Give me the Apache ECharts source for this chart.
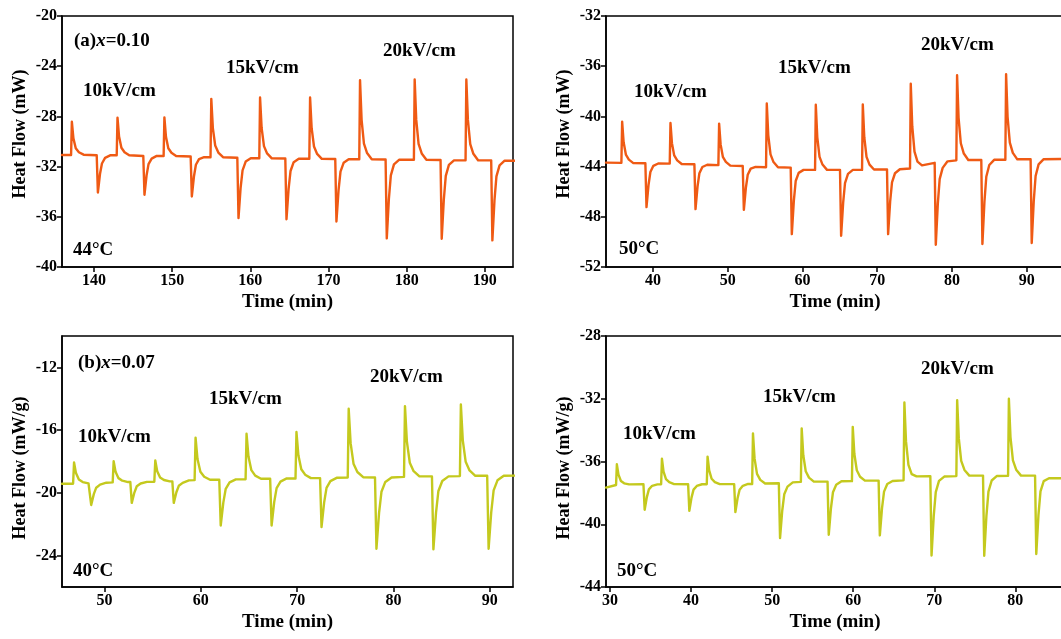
<!DOCTYPE html>
<html>
<head>
<meta charset="utf-8">
<script src="https://cdn.jsdelivr.net/npm/echarts@6/dist/echarts.min.js"></script>
<style>
html,body{margin:0;padding:0;background:#fff;}
#main{width:1061px;height:639px;}
</style>
</head>
<body>
<div id="main"></div>
<script>
// ---------- data (time in min, heat flow) ----------
const seriesA = [ // (a) x=0.10, 44°C, mW
[135.9,-31.07],
[137.06,-31.07],[137.16,-28.42],[137.36,-29.75],[137.66,-30.54],[138.06,-30.86],[138.66,-31.05],
[140.34,-31.1],[140.49,-34.07],[140.76,-32.59],[141.01,-31.75],[141.41,-31.3],[142.06,-31.1],
[142.9,-31.1],[143.0,-28.1],[143.2,-29.6],[143.5,-30.5],[143.9,-30.86],[144.5,-31.1],
[146.3,-31.15],[146.45,-34.25],[146.72,-32.7],[146.97,-31.8],[147.37,-31.36],[148.02,-31.15],
[148.9,-31.15],[149.0,-28.08],[149.2,-29.62],[149.5,-30.54],[149.9,-30.9],[150.5,-31.15],
[152.36,-31.2],[152.51,-34.38],[152.78,-32.79],[153.03,-31.85],[153.43,-31.4],[154.08,-31.25],
[154.9,-31.25],[155.0,-26.6],[155.2,-28.93],[155.5,-30.32],[155.9,-30.88],[156.5,-31.25],
[158.33,-31.3],[158.48,-36.1],[158.75,-33.7],[159.0,-32.3],[159.4,-31.6],[160.05,-31.34],
[161.14,-31.34],[161.24,-26.49],[161.44,-28.92],[161.74,-30.37],[162.14,-30.95],[162.74,-31.34],
[164.47,-31.36],[164.62,-36.19],[164.89,-33.78],[165.14,-32.35],[165.54,-31.65],[166.19,-31.38],
[167.54,-31.38],[167.64,-26.49],[167.84,-28.94],[168.14,-30.4],[168.54,-30.99],[169.14,-31.38],
[170.86,-31.4],[171.01,-36.37],[171.28,-33.89],[171.53,-32.4],[171.93,-31.7],[172.58,-31.42],
[173.93,-31.42],[174.03,-25.11],[174.23,-28.27],[174.53,-30.16],[174.93,-30.92],[175.53,-31.42],
[177.3,-31.44],[177.45,-37.72],[177.72,-34.58],[177.97,-32.7],[178.37,-31.82],[179.02,-31.46],
[180.92,-31.46],[181.02,-25.06],[181.22,-28.26],[181.52,-30.18],[181.92,-30.95],[182.52,-31.46],
[184.33,-31.48],[184.48,-37.75],[184.75,-34.62],[185.0,-32.74],[185.4,-31.86],[186.05,-31.5],
[187.53,-31.5],[187.63,-25.06],[187.83,-28.28],[188.13,-30.21],[188.53,-30.98],[189.13,-31.5],
[190.81,-31.5],[190.96,-37.88],[191.23,-34.69],[191.48,-32.78],[191.88,-31.9],[192.53,-31.53],
[193.8,-31.53]
];
const seriesB = [ // x=0.10, 50°C, mW
[33.7,-43.68],
[35.76,-43.7],[35.86,-40.42],[36.06,-42.06],[36.36,-43.04],[36.76,-43.44],[37.36,-43.72],
[38.97,-43.73],[39.12,-47.23],[39.39,-45.48],[39.64,-44.43],[40.04,-43.94],[40.69,-43.75],
[42.23,-43.76],[42.33,-40.53],[42.53,-42.15],[42.83,-43.11],[43.23,-43.5],[43.83,-43.79],
[45.53,-43.81],[45.68,-47.39],[45.95,-45.6],[46.2,-44.53],[46.6,-44.03],[47.25,-43.85],
[48.74,-43.88],[48.84,-40.58],[49.04,-42.23],[49.34,-43.22],[49.74,-43.62],[50.34,-43.92],
[52.0,-43.95],[52.15,-47.44],[52.42,-45.7],[52.67,-44.65],[53.07,-44.16],[53.72,-44.02],
[55.12,-44.05],[55.22,-38.97],[55.42,-41.51],[55.72,-43.03],[56.12,-43.64],[56.72,-44.05],
[58.42,-44.08],[58.57,-49.38],[58.84,-46.73],[59.09,-45.15],[59.49,-44.5],[60.14,-44.26],
[61.68,-44.26],[61.78,-39.07],[61.98,-41.67],[62.28,-43.22],[62.68,-43.84],[63.28,-44.26],
[65.02,-44.26],[65.17,-49.51],[65.44,-46.89],[65.69,-45.31],[66.09,-44.58],[66.74,-44.26],
[67.97,-44.26],[68.07,-39.05],[68.27,-41.66],[68.57,-43.22],[68.97,-43.84],[69.57,-44.23],
[71.31,-44.22],[71.46,-49.38],[71.73,-46.8],[71.98,-45.25],[72.38,-44.53],[73.03,-44.21],
[74.39,-44.15],[74.49,-37.4],[74.69,-40.78],[74.99,-42.8],[75.39,-43.6],[75.99,-43.9],
[77.69,-43.7],[77.84,-50.23],[78.11,-46.97],[78.36,-45.0],[78.76,-44.1],[79.41,-43.58],
[80.59,-43.5],[80.69,-36.72],[80.89,-40.11],[81.19,-42.14],[81.59,-42.96],[82.19,-43.47],
[83.93,-43.47],[84.08,-50.17],[84.35,-46.82],[84.6,-44.81],[85.0,-43.87],[85.65,-43.46],
[87.15,-43.45],[87.25,-36.64],[87.45,-40.05],[87.75,-42.09],[88.15,-42.91],[88.75,-43.42],
[90.53,-43.42],[90.68,-50.09],[90.95,-46.76],[91.2,-44.75],[91.6,-43.82],[92.25,-43.42],
[95.5,-43.39]
];
const seriesC = [ // (b) x=0.07, 40°C, mW/g
[45.6,-19.42],
[46.75,-19.42],[46.85,-18.06],[47.05,-18.74],[47.35,-19.15],[47.75,-19.31],[48.35,-19.39],
[48.48,-19.39],[48.63,-20.77],[48.9,-20.08],[49.15,-19.67],[49.55,-19.47],[50.2,-19.35],
[50.86,-19.33],[50.96,-17.98],[51.16,-18.66],[51.46,-19.06],[51.86,-19.22],[52.46,-19.31],
[52.69,-19.31],[52.84,-20.64],[53.11,-19.98],[53.36,-19.58],[53.76,-19.4],[54.41,-19.3],
[55.18,-19.29],[55.28,-17.94],[55.48,-18.62],[55.78,-19.02],[56.18,-19.18],[56.78,-19.27],
[57.05,-19.27],[57.2,-20.64],[57.47,-19.96],[57.72,-19.55],[58.12,-19.36],[58.77,-19.2],
[59.36,-19.19],[59.46,-16.48],[59.66,-17.84],[59.96,-18.65],[60.36,-18.97],[60.96,-19.16],
[61.92,-19.16],[62.07,-22.08],[62.34,-20.62],[62.59,-19.74],[62.99,-19.33],[63.64,-19.14],
[64.65,-19.13],[64.75,-16.23],[64.95,-17.68],[65.25,-18.55],[65.65,-18.9],[66.25,-19.1],
[67.2,-19.1],[67.35,-22.08],[67.62,-20.59],[67.87,-19.7],[68.27,-19.28],[68.92,-19.08],
[69.83,-19.08],[69.93,-16.12],[70.13,-17.6],[70.43,-18.49],[70.83,-18.84],[71.43,-19.06],
[72.38,-19.06],[72.53,-22.18],[72.8,-20.62],[73.05,-19.68],[73.45,-19.25],[74.1,-19.04],
[75.25,-19.02],[75.35,-14.64],[75.55,-16.83],[75.85,-18.14],[76.25,-18.67],[76.85,-19.0],
[78.08,-19.02],[78.23,-23.56],[78.5,-21.29],[78.75,-19.93],[79.15,-19.3],[79.8,-19.02],
[81.09,-18.98],[81.19,-14.47],[81.39,-16.73],[81.69,-18.08],[82.09,-18.62],[82.69,-18.95],
[83.99,-18.95],[84.14,-23.6],[84.41,-21.28],[84.66,-19.88],[85.06,-19.24],[85.71,-18.95],
[86.89,-18.93],[86.99,-14.37],[87.19,-16.65],[87.49,-18.02],[87.89,-18.57],[88.49,-18.91],
[89.72,-18.91],[89.87,-23.56],[90.14,-21.24],[90.39,-19.84],[90.79,-19.2],[91.44,-18.91],
[92.6,-18.9]
];
const seriesD = [ // x=0.07, 50°C, mW/g
[29.5,-37.66],
[30.74,-37.5],[30.84,-36.18],[31.04,-36.84],[31.34,-37.24],[31.74,-37.39],[32.34,-37.46],
[34.12,-37.45],[34.27,-39.08],[34.54,-38.27],[34.79,-37.78],[35.19,-37.55],[35.84,-37.46],
[36.3,-37.45],[36.4,-35.82],[36.6,-36.64],[36.9,-37.12],[37.3,-37.32],[37.9,-37.44],
[39.63,-37.45],[39.78,-39.15],[40.05,-38.3],[40.3,-37.79],[40.7,-37.56],[41.35,-37.45],
[41.93,-37.45],[42.03,-35.69],[42.23,-36.57],[42.53,-37.1],[42.93,-37.31],[43.53,-37.44],
[45.31,-37.44],[45.46,-39.23],[45.73,-38.34],[45.98,-37.8],[46.38,-37.55],[47.03,-37.43],
[47.53,-37.43],[47.63,-34.21],[47.83,-35.82],[48.13,-36.79],[48.53,-37.17],[49.13,-37.4],
[50.82,-37.39],[50.97,-40.88],[51.24,-39.14],[51.49,-38.09],[51.89,-37.6],[52.54,-37.33],
[53.54,-37.3],[53.64,-33.89],[53.84,-35.6],[54.14,-36.62],[54.54,-37.03],[55.14,-37.28],
[56.83,-37.28],[56.98,-40.67],[57.25,-38.98],[57.5,-37.96],[57.9,-37.48],[58.55,-37.26],
[59.84,-37.25],[59.94,-33.79],[60.14,-35.52],[60.44,-36.56],[60.84,-36.97],[61.44,-37.22],
[63.13,-37.22],[63.28,-40.71],[63.55,-38.97],[63.8,-37.92],[64.2,-37.43],[64.85,-37.24],
[66.21,-37.2],[66.31,-32.24],[66.51,-34.72],[66.81,-36.21],[67.21,-36.8],[67.81,-36.95],
[69.51,-36.94],[69.66,-41.99],[69.93,-39.47],[70.18,-37.95],[70.58,-37.24],[71.23,-36.96],
[72.72,-36.93],[72.82,-32.09],[73.02,-34.51],[73.32,-35.96],[73.72,-36.54],[74.32,-36.9],
[76.01,-36.9],[76.16,-42.01],[76.43,-39.46],[76.68,-37.92],[77.08,-37.21],[77.73,-36.92],
[79.1,-36.91],[79.2,-32.0],[79.4,-34.46],[79.7,-35.93],[80.1,-36.52],[80.7,-36.9],
[82.43,-36.9],[82.58,-41.9],[82.85,-39.4],[83.1,-37.9],[83.5,-37.25],[84.15,-37.07],
[86.3,-37.07]
];
// tick values
const xTicksA = [140,150,160,170,180,190];
const xTicksB = [40,50,60,70,80,90];
const xTicksC = [50,60,70,80,90];
const xTicksD = [30,40,50,60,70,80];
const yTicksC = [-24,-20,-16,-12];
const xRanges = [[135.9,193.6],[33.7,95.0],[45.6,92.4],[29.5,86.0]];
const yRanges = [[-40,-20],[-52,-32],[-26,-10],[-44,-28]];
const yNames = ['Heat Flow (mW)','Heat Flow (mW)','Heat Flow (mW/g)','Heat Flow (mW/g)'];
const xName = 'Time (min)';
const fieldLabels = ['10kV/cm','15kV/cm','20kV/cm'];
const tempLabels = ['44°C','50°C','40°C','50°C'];

// ---------- chart ----------
const FONT = "'Liberation Serif','Times New Roman',serif";
const ORANGE = '#EF5A14';
const YG = '#C4C91E';
const chart = echarts.init(document.getElementById('main'), null, {renderer:'canvas'});

const grids = [
  {left:62, top:16, width:451, height:251},
  {left:606, top:16, width:458, height:251},
  {left:62, top:336, width:451, height:251},
  {left:606, top:336, width:458, height:251}
].map(g => Object.assign(g, {show:true, borderColor:'#000', borderWidth:1.5, backgroundColor:'transparent',
  containLabel:false, outerBoundsMode:'none'}));

const xTickSets = [xTicksA, xTicksB, xTicksC, xTicksD];
const xAxes = xRanges.map((r,i) => ({
  type:'value', gridIndex:i, min:r[0], max:r[1],
  name:xName, nameLocation:'middle', nameGap:26,
  nameTextStyle:{fontFamily:FONT, fontWeight:'bold', fontSize:19, color:'#000'},
  axisLine:{show:true, onZero:false, lineStyle:{color:'#000', width:1.5}},
  axisTick:{show:true, inside:false, length:5, lineStyle:{color:'#000', width:1.5}, customValues:xTickSets[i]},
  axisLabel:{fontFamily:FONT, fontWeight:'bold', fontSize:16, color:'#000', margin:6, customValues:xTickSets[i]},
  splitLine:{show:false}
}));
const namePads = [[0,0,0,15],[0,0,0,15],[0,13,0,0],[0,13,0,0]];
const yAxes = yRanges.map((r,i) => {
  const ax = {
    type:'value', gridIndex:i, min:r[0], max:r[1],
    name:yNames[i], nameLocation:'middle', nameGap:33, nameRotate:90,
    nameTextStyle:{fontFamily:FONT, fontWeight:'bold', fontSize:18, color:'#000', padding:namePads[i]},
    axisLine:{show:true, onZero:false, lineStyle:{color:'#000', width:1.5}},
    axisTick:{show:true, inside:false, length:5, lineStyle:{color:'#000', width:1.5}},
    axisLabel:{fontFamily:FONT, fontWeight:'bold', fontSize:16, color:'#000', margin:5},
    splitLine:{show:false}
  };
  if (i === 2) {
    ax.axisTick.customValues = yTicksC;
    ax.axisLabel.customValues = yTicksC;
  } else {
    ax.interval = 4;
  }
  return ax;
});

const allData = [seriesA, seriesB, seriesC, seriesD];
const colors = [ORANGE, ORANGE, YG, YG];
const series = allData.map((d,i) => ({
  type:'line', xAxisIndex:i, yAxisIndex:i, data:d,
  showSymbol:false, symbol:'none', smooth:false,
  lineStyle:{color:colors[i], width:2.4, join:'round', cap:'round'}, itemStyle:{color:colors[i]},
  clip:true
}));

function txt(x, y, text, rich) {
  return {type:'text', x:x, y:y, z:10, silent:true,
    style:{text:text, fontFamily:FONT, fontWeight:'bold', fontSize:19, fill:'#000',
      verticalAlign:'middle', align:'left', rich:rich||undefined}};
}
const italicRich = {i:{fontFamily:FONT, fontWeight:'bold', fontStyle:'italic', fontSize:19, fill:'#000'},
                    n:{fontFamily:FONT, fontWeight:'bold', fontSize:19, fill:'#000'}};
const graphics = [
  txt(74, 41, '{n|(a)}{i|x}{n|=0.10}', italicRich),
  txt(83, 91, fieldLabels[0]), txt(226, 68, fieldLabels[1]), txt(383, 51, fieldLabels[2]), txt(73, 250, tempLabels[0]),
  txt(634, 92, fieldLabels[0]), txt(778, 68, fieldLabels[1]), txt(921, 45, fieldLabels[2]), txt(619, 249, tempLabels[1]),
  txt(78, 363, '{n|(b)}{i|x}{n|=0.07}', italicRich),
  txt(78, 437, fieldLabels[0]), txt(209, 399, fieldLabels[1]), txt(370, 377, fieldLabels[2]), txt(73, 571, tempLabels[2]),
  txt(623, 434, fieldLabels[0]), txt(763, 397, fieldLabels[1]), txt(921, 369, fieldLabels[2]), txt(617, 571, tempLabels[3])
];

chart.setOption({
  animation:false,
  backgroundColor:'#fff',
  grid:grids, xAxis:xAxes, yAxis:yAxes, series:series,
  graphic:graphics
});
</script>
</body>
</html>
